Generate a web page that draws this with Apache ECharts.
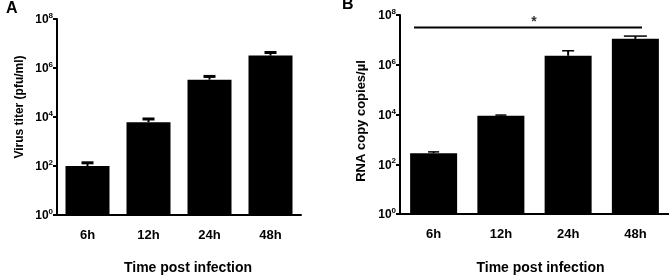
<!DOCTYPE html>
<html><head><meta charset="utf-8">
<script src="https://cdn.jsdelivr.net/npm/echarts@6/dist/echarts.min.js"></script>
<style>html,body{margin:0;padding:0;background:#fff}#c{width:669px;height:280px}</style>
</head><body><div id="c"></div>
<script>
var categories = ['6h', '12h', '24h', '48h'];
var titerValues = [100, 6100, 334000, 3200000];
var titerErrTop = [135, 8300, 453000, 4300000];
var rnaValues = [275, 8950, 2300000, 11000000];
var rnaErrTop = [314, 9500, 3650000, 14200000];

var chart = echarts.init(document.getElementById('c'), null, {renderer: 'canvas'});
var FONT = '"Liberation Sans", Arial, sans-serif';

function yAxis(gi, name, nameGap, fs, pad) {
  return {
    type: 'log', logBase: 10, gridIndex: gi, min: 1, max: 1e8, interval: 2,
    name: name, nameLocation: 'middle', nameGap: nameGap, nameRotate: 90,
    nameTextStyle: {fontFamily: FONT, fontWeight: 'bold', fontSize: fs, color: '#000', padding: pad},
    axisLine: {show: true, lineStyle: {color: '#000', width: 2}},
    axisTick: {show: true, length: 4, lineStyle: {color: '#000', width: 2}},
    splitLine: {show: false},
    axisLabel: {
      margin: 4,
      formatter: function (v) { return '{b|10}{s|' + Math.round(Math.log10(v)) + '}'; },
      rich: {
        b: {fontFamily: FONT, fontWeight: 'bold', fontSize: 12, color: '#000', verticalAlign: 'bottom', lineHeight: 14},
        s: {fontFamily: FONT, fontWeight: 'bold', fontSize: 8, color: '#000', verticalAlign: 'top', padding: [0, 0, 8, 0], lineHeight: 14}
      }
    }
  };
}
function xAxis(gi, gap, pad) {
  return {
    type: 'category', gridIndex: gi, data: categories,
    name: 'Time post infection', nameLocation: 'middle', nameGap: gap,
    nameTextStyle: {fontFamily: FONT, fontWeight: 'bold', fontSize: 14, color: '#000', padding: pad},
    axisLine: {lineStyle: {color: '#000', width: 2}},
    axisTick: {alignWithLabel: true, length: 6, lineStyle: {color: '#000', width: 2}},
    axisLabel: {fontFamily: FONT, fontWeight: 'bold', fontSize: 13, color: '#000', margin: 14}
  };
}
function errSeries(xi, vals, tops, capW, capLw) {
  return {
    type: 'custom', xAxisIndex: xi, yAxisIndex: xi, z: 1,
    data: categories.map(function (c, i) { return [i, vals[i], tops[i]]; }),
    renderItem: function (params, api) {
      var p0 = api.coord([api.value(0), api.value(1)]);
      var p1 = api.coord([api.value(0), api.value(2)]);
      var cw = capW[params.dataIndex];
      return {type: 'group', children: [
        {type: 'line', shape: {x1: p0[0], y1: p0[1], x2: p1[0], y2: p1[1]}, style: {stroke: '#000', lineWidth: 2}},
        {type: 'line', shape: {x1: p1[0] - cw / 2, y1: p1[1], x2: p1[0] + cw / 2, y2: p1[1]}, style: {stroke: '#000', lineWidth: capLw}}
      ]};
    }
  };
}

chart.setOption({
  animation: false,
  grid: [
    {left: 57, top: 19, width: 244, height: 198},
    {left: 400, top: 15, width: 270, height: 203}
  ],
  xAxis: [xAxis(0, 46, [0, 0, 0, 18]), xAxis(1, 47, [0, 0, 0, 12])],
  yAxis: [yAxis(0, 'Virus titer (pfu/ml)', 31, 12, [0, 0, 0, 20]), yAxis(1, 'RNA copy copies/µl', 32, 13, [0, 13, 0, 0])],
  series: [
    {type: 'bar', xAxisIndex: 0, yAxisIndex: 0, data: titerValues, barWidth: 44, z: 2,
     itemStyle: {color: '#000'}},
    errSeries(0, titerValues, titerErrTop, [12, 12, 12, 12], 3),
    {type: 'bar', xAxisIndex: 1, yAxisIndex: 1, data: rnaValues, barWidth: 47, z: 2,
     itemStyle: {color: '#000'}},
    errSeries(1, rnaValues, rnaErrTop, [11, 11, 12, 23], 1.5)
  ],
  graphic: [
    {type: 'text', left: 6, top: 1, style: {text: 'A', fontFamily: FONT, fontWeight: 'bold', fontSize: 16, fill: '#000'}},
    {type: 'text', left: 342, top: -3, style: {text: 'B', fontFamily: FONT, fontWeight: 'bold', fontSize: 16, fill: '#000'}},
    {type: 'line', shape: {x1: 414, y1: 27.5, x2: 642, y2: 27.5}, style: {stroke: '#000', lineWidth: 2}},
    {type: 'text', x: 534, y: 22, style: {text: '*', align: 'center', verticalAlign: 'middle', fontFamily: FONT, fontWeight: 'bold', fontSize: 14, fill: '#333'}}
  ]
});
</script></body></html>
